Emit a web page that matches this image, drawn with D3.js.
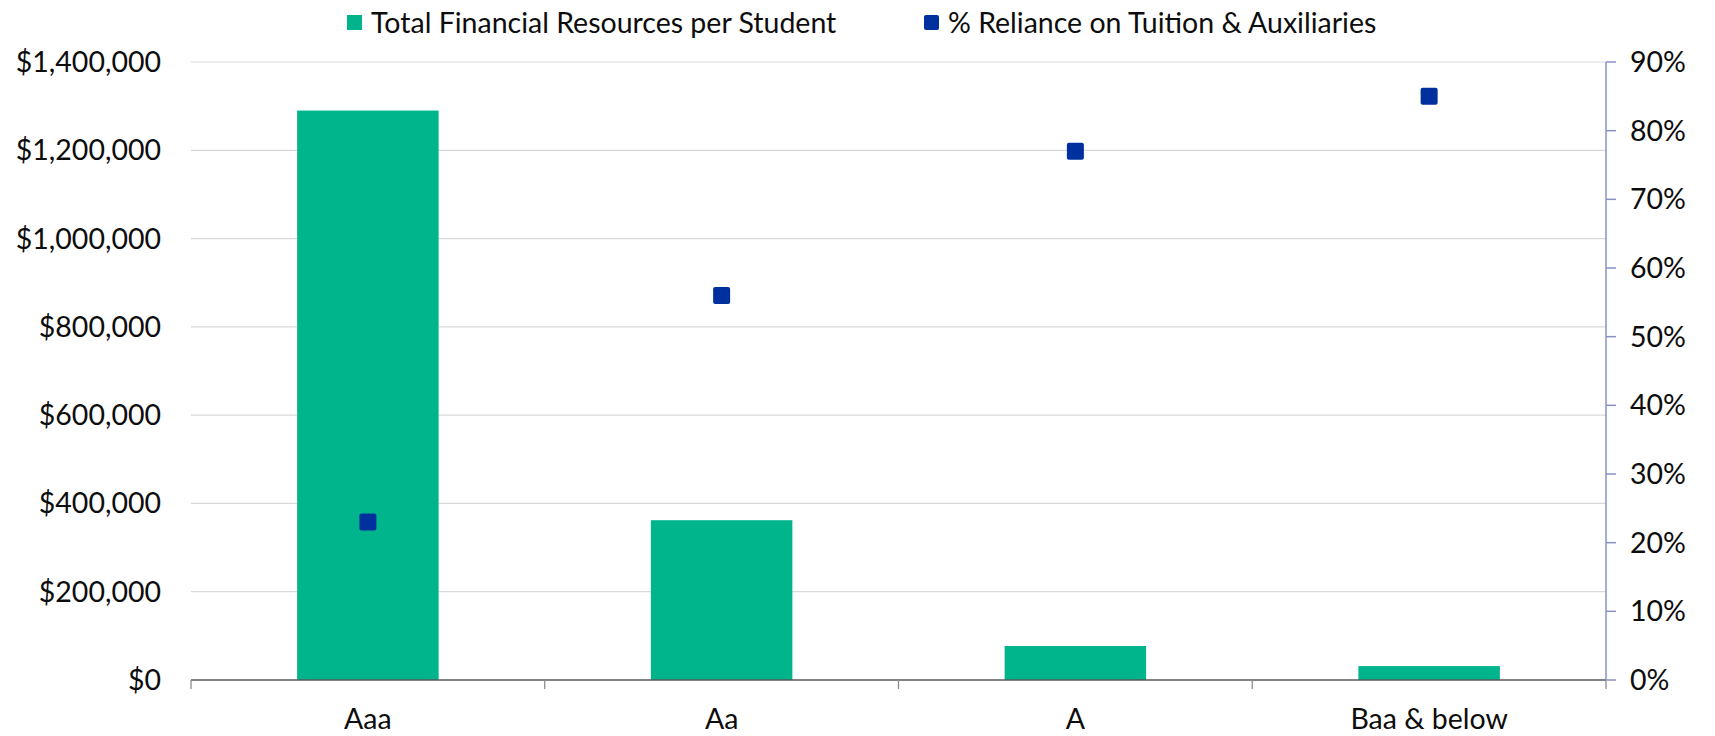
<!DOCTYPE html>
<html>
<head>
<meta charset="utf-8">
<script src="https://cdn.jsdelivr.net/npm/d3@7/dist/d3.min.js"></script>
<style>
  html, body { margin: 0; padding: 0; background: #ffffff; }
  svg { display: block; }
  text { font-family: Lato, "Open Sans", sans-serif; fill: #0d0d0d; }
</style>
</head>
<body>
<svg id="chart" width="1715" height="736"></svg>
<script>
// Rating categories
const categories = ["Aaa", "Aa", "A", "Baa & below"];
// Total financial resources per student (USD)
const resourcesPerStudent = [1290000, 362000, 77000, 31500];
// Share of revenue from tuition & auxiliaries (%)
const tuitionReliance = [23, 56, 77, 85];
// Axis ticks
const leftTicks = [0, 200000, 400000, 600000, 800000, 1000000, 1200000, 1400000];
const rightTicks = [0, 10, 20, 30, 40, 50, 60, 70, 80, 90];
const seriesNames = ["Total Financial Resources per Student", "% Reliance on Tuition & Auxiliaries"];

const colors = { bar: "#00b48c", marker: "#00309e", grid: "#d9d9d9", axis: "#595959", rightAxis: "#8a90c4" };

const svg = d3.select("#chart");
const plot = { left: 191, right: 1606, top: 62, bottom: 680 };
const fontSize = 28.5;

const x = d3.scaleBand().domain(categories).range([plot.left, plot.right]).paddingInner(0.6).paddingOuter(0.3);
const xOuter = d3.scaleBand().domain(categories).range([plot.left, plot.right]).padding(0);
const yLeft = d3.scaleLinear().domain([0, 1400000]).range([plot.bottom, plot.top]);
const yRight = d3.scaleLinear().domain([0, 90]).range([plot.bottom, plot.top]);

// Gridlines
svg.append("g").selectAll("line").data(leftTicks.filter(d => d > 0)).join("line")
  .attr("x1", plot.left).attr("x2", plot.right)
  .attr("y1", d => yLeft(d)).attr("y2", d => yLeft(d))
  .attr("stroke", colors.grid).attr("stroke-width", 1.2);

// Left axis labels
const fmt = d3.format("$,.0f");
svg.append("g").selectAll("text").data(leftTicks).join("text")
  .attr("x", 161).attr("y", d => yLeft(d)).attr("dy", "0.35em")
  .attr("text-anchor", "end").attr("font-size", fontSize)
  .text(d => fmt(d));

// Bars
svg.append("g").selectAll("rect").data(categories).join("rect")
  .attr("x", d => x(d)).attr("width", x.bandwidth())
  .attr("y", (d, i) => yLeft(resourcesPerStudent[i]))
  .attr("height", (d, i) => yLeft(0) - yLeft(resourcesPerStudent[i]))
  .attr("fill", colors.bar);

// X axis line and tick marks at category boundaries
const xAxis = svg.append("g");
xAxis.append("line").attr("x1", plot.left).attr("x2", plot.right)
  .attr("y1", plot.bottom).attr("y2", plot.bottom)
  .attr("stroke", colors.axis).attr("stroke-width", 1.3);
const boundaries = categories.map(c => xOuter(c)).concat([plot.right]);
xAxis.selectAll("line.tick").data(boundaries).join("line").attr("class", "tick")
  .attr("x1", d => d).attr("x2", d => d)
  .attr("y1", plot.bottom).attr("y2", plot.bottom + 9)
  .attr("stroke", "#8c8c8c").attr("stroke-width", 1.3);
xAxis.selectAll("text").data(categories).join("text")
  .attr("x", d => xOuter(d) + xOuter.bandwidth() / 2).attr("y", 729)
  .attr("text-anchor", "middle").attr("font-size", fontSize)
  .text(d => d);

// Right axis
const rAxis = svg.append("g");
rAxis.append("line").attr("x1", plot.right).attr("x2", plot.right)
  .attr("y1", plot.top).attr("y2", plot.bottom)
  .attr("stroke", colors.rightAxis).attr("stroke-width", 1.5);
rAxis.selectAll("line.tick").data(rightTicks).join("line").attr("class", "tick")
  .attr("x1", plot.right).attr("x2", plot.right + 10)
  .attr("y1", d => yRight(d)).attr("y2", d => yRight(d))
  .attr("stroke", colors.rightAxis).attr("stroke-width", 1.5);
rAxis.selectAll("text").data(rightTicks).join("text")
  .attr("x", 1630).attr("y", d => yRight(d)).attr("dy", "0.35em")
  .attr("font-size", fontSize)
  .text(d => d + "%");

// Markers
const m = 17;
svg.append("g").selectAll("rect").data(categories).join("rect")
  .attr("x", d => xOuter(d) + xOuter.bandwidth() / 2 - m / 2)
  .attr("y", (d, i) => yRight(tuitionReliance[i]) - m / 2)
  .attr("width", m).attr("height", m).attr("rx", 2)
  .attr("fill", colors.marker);

// Legend
const legend = svg.append("g");
const legendItems = [
  { name: seriesNames[0], color: colors.bar, x: 347, rx: 0 },
  { name: seriesNames[1], color: colors.marker, x: 924, rx: 2 }
];
legendItems.forEach(it => {
  legend.append("rect").attr("x", it.x).attr("y", 15).attr("width", 15).attr("height", 15)
    .attr("rx", it.rx).attr("fill", it.color);
  legend.append("text").attr("x", it.x + 24).attr("y", 23).attr("dy", "0.35em")
    .attr("font-size", fontSize).text(it.name);
});
</script>
</body>
</html>
